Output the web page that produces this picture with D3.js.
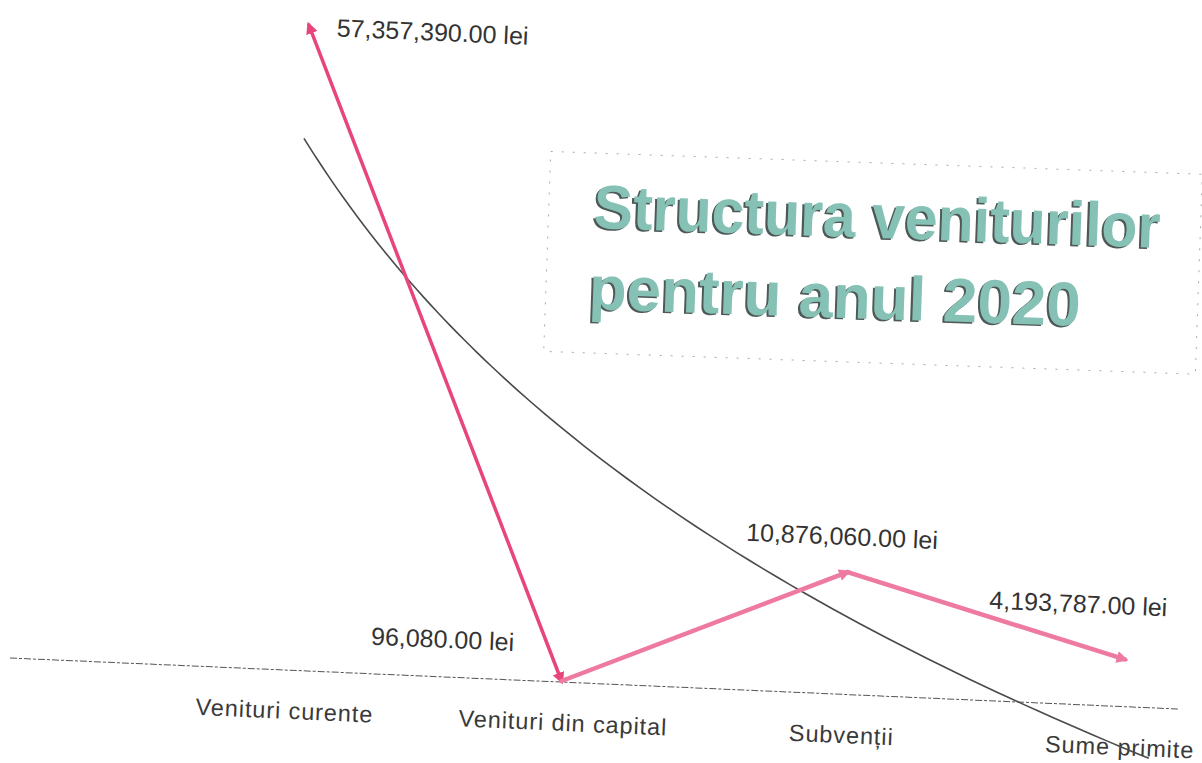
<!DOCTYPE html>
<html>
<head>
<meta charset="utf-8">
<script src="https://cdn.jsdelivr.net/npm/d3@7"></script>
<style>
  html, body { margin: 0; padding: 0; background: #fff; }
  svg { display: block; }
  text { font-family: 'Liberation Sans', Arial, sans-serif; }
</style>
</head>
<body>
<svg id="chart" width="1202" height="763"></svg>
<script>
'use strict'

const categories = ['Venituri curente', 'Venituri din capital', 'Subvenții', 'Sume primite']
const values = [57357390, 96080, 10876060, 4193787]
const titleLines = ['Structura veniturilor', 'pentru anul 2020']

// label offsets from their point, plot frame (before the scan tilt)
const labelOffsets = [[28, 10, 'start'], [-49, -28, 'end'], [-7, -27, 'middle'], [-49, -45, 'middle']]
const segmentColors = ['#e8457a', '#ee7aa0', '#ee7aa0']

const baseY = 658
const svg = d3.select('#chart')

const x = d3.scaleLinear().domain([1, 4]).range([281, 1124])
const y = d3.scaleLinear().domain([0, 60e6]).range([baseY, baseY - 675])

const fmt = v => d3.format(',.2f')(v) + ' lei'

const defs = svg.append('defs')
segmentColors.forEach((c, i) => {
  defs.append('marker')
    .attr('id', 'arrow' + i)
    .attr('viewBox', '0 -5 10 10')
    .attr('refX', 7)
    .attr('markerUnits', 'userSpaceOnUse')
    .attr('markerWidth', 12)
    .attr('markerHeight', 12)
    .attr('orient', 'auto-start-reverse')
    .append('path')
    .attr('d', 'M0,-5L10,0L0,5Z')
    .attr('fill', c)
})

// scanned page is tilted a little
const plot = svg.append('g').attr('transform', `rotate(2.5, 10, ${baseY})`)

plot.append('line')
  .attr('x1', 10).attr('x2', 1180)
  .attr('y1', baseY).attr('y2', baseY)
  .attr('stroke', '#555')
  .attr('stroke-width', 1)
  .attr('stroke-dasharray', '7,2,3,2')

const xCat = d3.scalePoint().domain(categories).range([x(1) + 5, x(4) - 2])
const axis = plot.append('g')
  .attr('transform', `translate(0, ${baseY})`)
  .call(d3.axisBottom(xCat).tickSize(0).tickPadding(32))
axis.select('.domain').remove()
axis.selectAll('text')
  .attr('font-family', "'Liberation Sans', Arial, sans-serif")
  .attr('font-size', 23.5)
  .attr('letter-spacing', 0.9)
  .attr('fill', '#3a3a3a')

// logarithmic trendline (least squares on ln(x))
const lx = values.map((v, i) => Math.log(i + 1))
const mx = d3.mean(lx)
const my = d3.mean(values)
const slope = d3.sum(lx, (l, i) => (l - mx) * (values[i] - my)) / d3.sum(lx, l => (l - mx) ** 2)
const icpt = my - slope * mx
const trend = d3.range(1, 4.101, 0.05).map(t => [t, icpt + slope * Math.log(t)])

plot.append('path')
  .datum(trend)
  .attr('fill', 'none')
  .attr('stroke', '#4a4a4a')
  .attr('stroke-width', 1.6)
  .attr('d', d3.line().x(d => x(d[0])).y(d => y(d[1])).curve(d3.curveMonotoneX))

const pts = values.map((v, i) => [x(i + 1), y(v)])
d3.pairs(pts).forEach((p, i) => {
  const seg = plot.append('path')
    .attr('d', d3.line()(p))
    .attr('fill', 'none')
    .attr('stroke', segmentColors[i])
    .attr('stroke-width', i === 0 ? 3.5 : 4.5)
    .attr('stroke-linecap', 'round')
    .attr('marker-end', `url(#arrow${i})`)
  if (i === 0) seg.attr('marker-start', `url(#arrow${i})`)
})

plot.selectAll('.vlabel')
  .data(values)
  .join('text')
  .attr('class', 'vlabel')
  .attr('x', (d, i) => x(i + 1) + labelOffsets[i][0])
  .attr('y', (d, i) => y(d) + labelOffsets[i][1])
  .attr('text-anchor', (d, i) => labelOffsets[i][2])
  .attr('font-size', 25)
  .attr('fill', '#333')
  .text(fmt)

// title box pasted on top
const tbox = svg.append('g').attr('transform', 'rotate(2, 593, 230)')
tbox.append('rect')
  .attr('x', 548).attr('y', 153)
  .attr('width', 652).attr('height', 200)
  .attr('fill', 'none')
  .attr('stroke', '#aaa')
  .attr('stroke-width', 1)
  .attr('stroke-dasharray', '2,9')

const tl = [[593, 228, 567], [591, 309, 492]]
titleLines.forEach((t, i) => {
  const [tx, ty, tw] = tl[i]
  ;[['#4d5857', -2, 1.5], ['#86c1b5', 0, 0]].forEach(([c, ox, oy]) => {
    tbox.append('text')
      .attr('x', tx + ox).attr('y', ty + oy)
      .attr('font-family', "'Liberation Sans', Arial, sans-serif")
      .attr('font-weight', 'bold')
      .attr('font-size', 62)
      .attr('textLength', tw)
      .attr('lengthAdjust', 'spacingAndGlyphs')
      .attr('fill', c)
      .text(t)
  })
})
</script>
</body>
</html>
